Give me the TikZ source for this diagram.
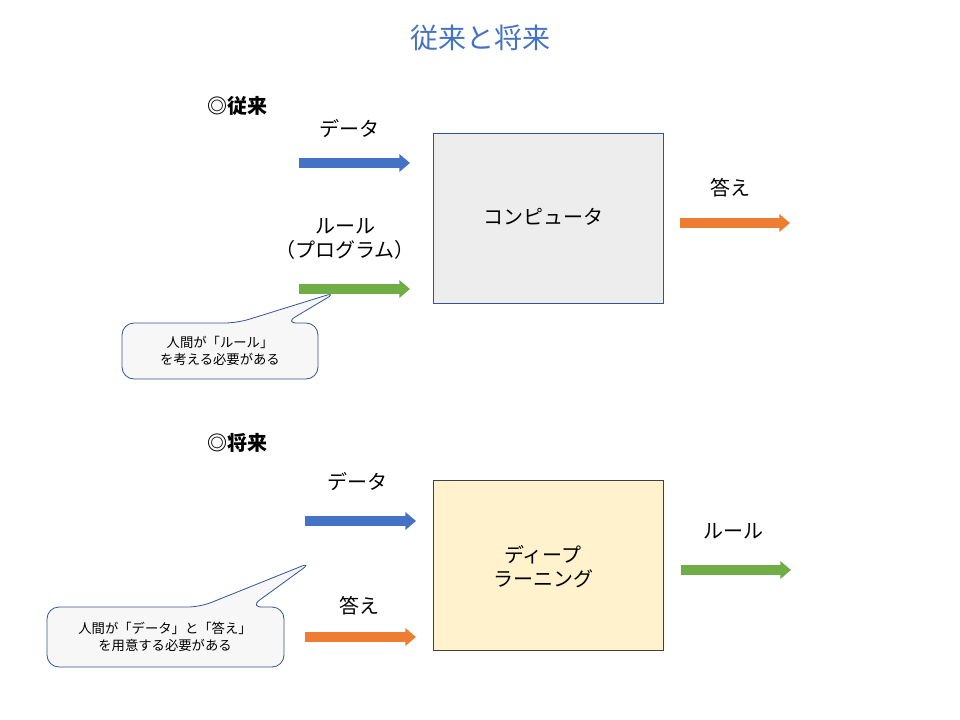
\documentclass[tikz,border=0pt]{standalone}
\usepackage{fontspec}
\setmainfont{Noto Sans CJK JP}
\usepackage{xcolor}
\usetikzlibrary{arrows.meta}
\definecolor{ttlblue}{HTML}{4472C4}
\definecolor{arrblue}{HTML}{4472C4}
\definecolor{arrgreen}{HTML}{70AD47}
\definecolor{arrorange}{HTML}{ED7D31}
\definecolor{boxline}{HTML}{2F5597}
\begin{document}
\begin{tikzpicture}[x=0.75pt,y=-0.75pt,
  lbl/.style={font=\fontsize{15}{18}\selectfont,align=center},
  hd/.style={font=\fontsize{15}{18}\selectfont\bfseries},
  box/.style={draw=boxline,line width=0.6pt,minimum width=172pt,minimum height=128pt,font=\fontsize{15}{22}\selectfont,align=center},
  pt/.style={coordinate},
  fat/.style={line width=7pt,-{Triangle[length=8pt,width=13pt]}},
  note/.style={draw=boxline,fill=black!3,line width=0.6pt,rounded corners=9pt},
  notetxt/.style={font=\fontsize{10}{13}\selectfont,align=center}]
\useasboundingbox (0,0) rectangle (960,720);
\node [font=\fontsize{21}{24}\selectfont,text=ttlblue] (title) at (480,38) {従来と将来};
% former
\node [hd] (hdA) at (237,106) {◎従来};
\node [box,fill=black!7] (comp) at (548.5,218.5) {};
\node [lbl] at (543,217) {コンピュータ};
\node [pt] (a1s) at (299,163) {}; \node [pt] (a1e) at (410,163) {};
\node [pt] (a2s) at (299,289) {}; \node [pt] (a2e) at (410,289) {};
\node [pt] (a3s) at (680,223) {}; \node [pt] (a3e) at (790,223) {};
\draw [fat,arrblue] (a1s) -- (a1e);
\draw [fat,arrgreen] (a2s) -- (a2e);
\draw [fat,arrorange] (a3s) -- (a3e);
\node [lbl] (dataA) at (349,129) {データ};
\node [lbl] (ruleA) at (345,239) {ルール\\（プログラム）};
\node [lbl] (ansA) at (730,188) {答え};
\draw [note] (237,323) -- (337,292) -- (285,323) -- (318,323) -- (318,379) -- (122,379) -- (122,323) -- cycle;
\node [notetxt] (noteA) at (220,351) {人間が「ルール」\\を考える必要がある};
% future
\node [hd] (hdB) at (237,443) {◎将来};
\node [box,fill={rgb,255:red,255;green,242;blue,204},draw=black!75] (deep) at (548.5,565.5) {};
\node [lbl] at (543,567) {ディープ\\ラーニング};
\node [pt] (b1s) at (305,521) {}; \node [pt] (b1e) at (416,521) {};
\node [pt] (b2s) at (305,637) {}; \node [pt] (b2e) at (416,637) {};
\node [pt] (b3s) at (681,570) {}; \node [pt] (b3e) at (791,570) {};
\draw [fat,arrblue] (b1s) -- (b1e);
\draw [fat,arrorange] (b2s) -- (b2e);
\draw [fat,arrgreen] (b3s) -- (b3e);
\node [lbl] (dataB) at (357,482) {データ};
\node [lbl] (ansB) at (359,606) {答え};
\node [lbl] (ruleB) at (733,531) {ルール};
\draw [note] (200,607) -- (312,562) -- (250,607) -- (284,607) -- (284,667) -- (47,667) -- (47,607) -- cycle;
\node [notetxt] (noteB) at (165,637) {人間が「データ」と「答え」\\を用意する必要がある};
\end{tikzpicture}
\end{document}
